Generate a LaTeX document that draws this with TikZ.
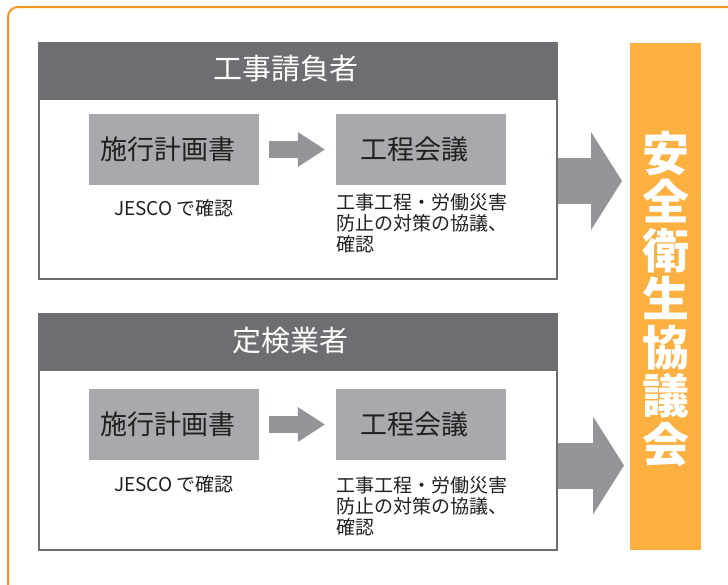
\documentclass[tikz,border=0pt]{standalone}
\usepackage{fontspec}
\setmainfont{Noto Sans CJK JP}
\usetikzlibrary{arrows.meta}
\definecolor{hdr}{HTML}{6D6E71}
\definecolor{inbox}{HTML}{A7A9AC}
\definecolor{arr}{HTML}{939598}
\definecolor{colfill}{HTML}{FBB040}
\definecolor{frameor}{HTML}{F7941D}
\definecolor{ink}{HTML}{231F20}
\begin{document}
\begin{tikzpicture}[x=1pt,y=-1pt,
  framebox/.style={draw=hdr, line width=1.5pt, fill=white, minimum width=518pt, minimum height=236pt, anchor=north west, inner sep=0pt},
  header/.style={fill=hdr, minimum width=518pt, minimum height=58pt, anchor=north west, inner sep=0pt},
  hdrtext/.style={text=white, font=\fontsize{29}{29}\selectfont, inner sep=0pt},
  stepbox/.style={fill=inbox, minimum width=170pt, minimum height=71pt, inner sep=0pt},
  steptext/.style={text=ink, font=\fontsize{27}{27}\selectfont, inner sep=0pt},
  note/.style={text=ink, font=\fontsize{19}{21}\selectfont, inner sep=0pt, align=left},
  thinarrow/.style={draw=arr, line width=17pt, -{Triangle[length=27pt, width=35pt, line width=0pt]}},
  bigarrow/.style={draw=arr, line width=46pt, -{Triangle[length=31pt, width=98pt, line width=0pt]}},
  colbox/.style={fill=colfill, minimum width=71pt, minimum height=507pt, inner sep=0pt},
  coltext/.style={text=white, font=\bfseries\fontsize{47}{48.5}\selectfont, align=center, inner sep=0pt}
]
\clip (0,0) rectangle (728,584);
\fill[white] (0,0) rectangle (728,584);
% outer orange frame
\draw[frameor, line width=2pt, rounded corners=10pt] (8,620) -- (8,7) -- (760,7);

% column
\node[colbox] (col) at (665.5,296.5) {};
\node[coltext] (colt) at (666,299) {安\\全\\衛\\生\\協\\議\\会};

% box 1
\node[framebox] (box1) at (38,42) {};
\node[header] (h1) at (38,42) {};
\node[hdrtext] (h1t) at (286,69) {工事請負者};
\node[stepbox] (p1) at (174,149.5) {};
\node[steptext] (p1t) at (168,149.5) {施行計画書};
\node[stepbox] (m1) at (421,149.5) {};
\node[steptext] (m1t) at (414,149.5) {工程会議};
\node[note] (n1) at (174,208) {JESCO で確認};
\node[note, anchor=north west] (q1) at (336,193) {工事工程・労働災害\\防止の対策の協議、\\確認};
\draw[thinarrow] ([xshift=10pt]p1.east) -- ([xshift=-11pt]m1.west);
\coordinate (t1) at (622,181);
\draw[bigarrow] (box1.east |- t1) -- (t1);

% box 2
\node[framebox, minimum height=236pt] (box2) at (38,313) {};
\node[header] (h2) at (38,313) {};
\node[hdrtext] (h2t) at (290,341) {定検業者};
\node[stepbox] (p2) at (174,424.5) {};
\node[steptext] (p2t) at (168,424.5) {施行計画書};
\node[stepbox] (m2) at (421,424.5) {};
\node[steptext] (m2t) at (414,424.5) {工程会議};
\node[note] (n2) at (174,484) {JESCO で確認};
\node[note, anchor=north west] (q2) at (336,476) {工事工程・労働災害\\防止の対策の協議、\\確認};
\draw[thinarrow] ([xshift=10pt]p2.east) -- ([xshift=-11pt]m2.west);
\coordinate (t2) at (624,465.5);
\draw[bigarrow] (box2.east |- t2) -- (t2);
\end{tikzpicture}
\end{document}
